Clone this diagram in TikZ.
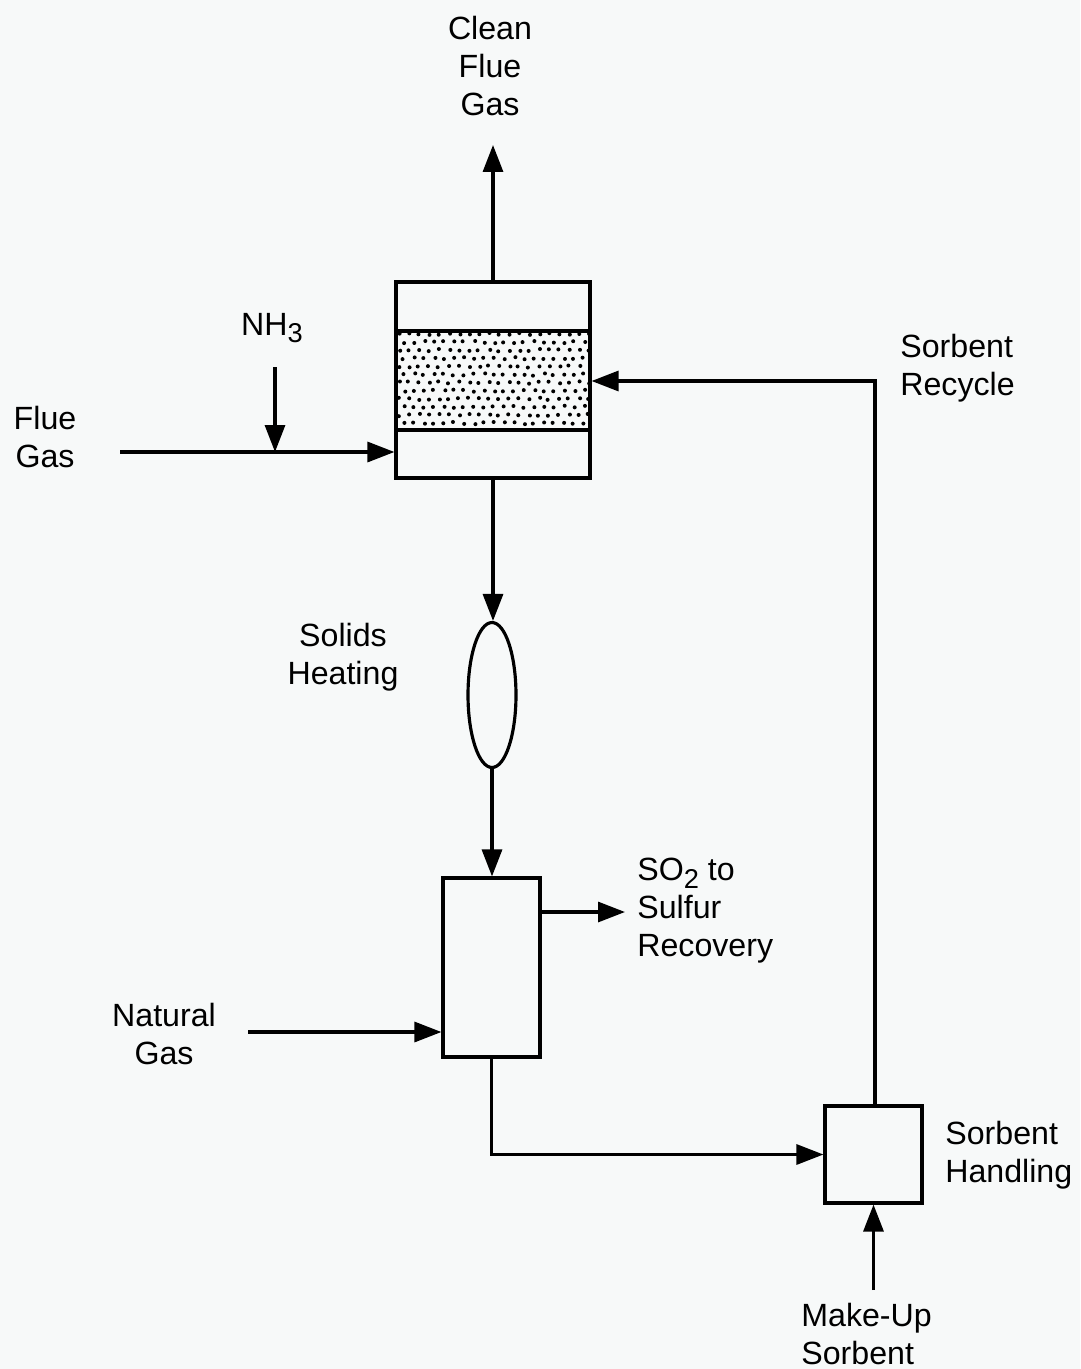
\documentclass[tikz,border=0pt]{standalone}
\usepackage{fontspec}
\setmainfont{Liberation Sans}
\usetikzlibrary{arrows.meta,positioning,shapes.geometric}
\definecolor{paper}{RGB}{247,249,249}
\tikzset{
  % process lines
  pipe/.style={line width=1.8pt},
  flow/.style={pipe,-{Triangle[length=0.54cm,width=0.4cm]}},
  % process units
  unitbox/.style={rectangle,draw,line width=1.8pt,inner sep=0pt},
  heater/.style={ellipse,draw,line width=1.8pt,inner sep=0pt,minimum width=0.96cm,minimum height=2.9cm},
  % stream labels
  lbl/.style={inner sep=0pt,font=\fontsize{18.3}{21.6}\selectfont},
}
\newcommand{\lowsub}[1]{\raisebox{-0.45ex}{\fontsize{15.5}{15.5}\selectfont #1}}

\begin{document}
\begin{tikzpicture}[x=0.02cm,y=-0.02cm]
\fill[paper] (0,0) rectangle (1080,1369);
\useasboundingbox (0,0) rectangle (1080,1369);

%% ===== adsorber with sorbent bed =====
\def\bedT{331} \def\bedB{430}
\pgfmathsetseed{11}
\begin{scope}
  \clip (396,\bedT) rectangle (590,\bedB);
  \foreach \r in {0,...,12}{
    \foreach \c in {0,...,19}{
      \fill ({399+10*\c+5*mod(\r,2)+1.5*rand},{334+8.1*\r+1.2*rand}) circle[radius=0.04cm];
    }
  }
\end{scope}
\node[unitbox,minimum width=3.88cm,minimum height=3.92cm] (rx) at (493,380) {};
\draw[pipe] (rx.west |- 0,\bedT) -- (rx.east |- 0,\bedT);
\draw[pipe] (rx.west |- 0,\bedB) -- (rx.east |- 0,\bedB);

%% ===== heater, regenerator, sorbent handling =====
\node[heater] (heat) at (492,695) {};
\node[unitbox,minimum width=1.94cm,minimum height=3.58cm] (regen) at (491.5,967.5) {};
\node[unitbox,minimum width=1.94cm,minimum height=1.94cm] (hand) at (873.5,1154.5) {};

%% ===== free stream ends =====
\coordinate (cfg) at (493,145);
\coordinate (fgin) at (120,452);
\coordinate (nh3) at (275,367);
\coordinate (so2) at (625,912);
\coordinate (ng) at (248,1032);
\coordinate (mu) at (873.5,1290);
\coordinate (rcy) at (875,381);

%% ===== streams =====
\draw[flow] (rx.north) -- (cfg);
\draw[flow] (fgin) -- (fgin -| rx.west);
\draw[flow] (nh3) -- (nh3 |- fgin);
\draw[flow] (rx.south) -- (rx.south |- heat.north);
\draw[flow] (heat.south) -- (heat.south |- regen.north);
\draw[flow] (so2 -| regen.east) -- (so2);
\draw[flow] (ng) -- (ng -| regen.west);
\draw[flow] (regen.south) -- (regen.south |- hand.west) -- (hand.west);
\draw[flow] (mu) -- (hand.south);
\draw[flow] (rcy |- hand.north) -- (rcy) -- (rcy -| rx.east);

%% ===== labels =====
\node[lbl,align=center] (lclean) at (490,66) {Clean\\Flue\\Gas};
\node[lbl] (lnh3) at (272,328) {NH\lowsub{3}};
\node[lbl,align=center] (lflue) at (45,437) {Flue\\Gas};
\node[lbl,align=left,anchor=west] (lrcy) at (900,368) {Sorbent\\Recycle};
\node[lbl,align=center] (lheat) at (343,657) {Solids\\Heating};
\node[lbl,align=left,anchor=west] (lso2) at (637,911) {SO\lowsub{2} to\\Sulfur\\Recovery};
\node[lbl,align=center] (lng) at (164,1034) {Natural\\Gas};
\node[lbl,align=left,anchor=west] (lhand) at (945,1155) {Sorbent\\Handling};
\node[lbl,align=left,anchor=west] (lmu) at (801,1334) {Make-Up\\Sorbent};
\end{tikzpicture}
\end{document}
